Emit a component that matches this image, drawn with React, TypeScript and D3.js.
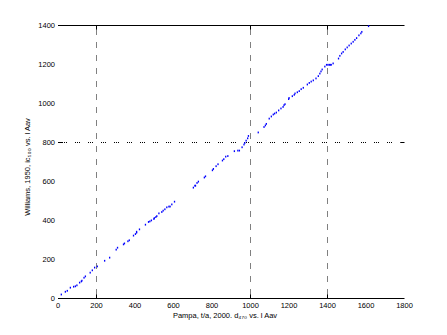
import React from "react";
import * as d3 from "d3";

const W = 447;
const H = 335;

const xTicks = [0, 200, 400, 600, 800, 1000, 1200, 1400, 1600, 1800];
const yTicks = [0, 200, 400, 600, 800, 1000, 1200, 1400];
const xGrid = [200, 1000, 1400];
const yGrid = [800];

const xLabel = "Pampa, t/a, 2000. d\u2084\u2087\u2080 vs. l Aav";
const yLabel = "Williams, 1950, ic\u2085\u2080\u2080 vs. l Aav";

const xVals = [
  17, 38, 48, 64, 81, 90, 98, 112, 121, 124, 135, 142, 167, 178, 190, 204, 242, 268,
  302, 309, 340, 345, 363, 370, 392, 402, 408, 408, 423, 454, 470, 477, 485, 498, 500,
  508, 513, 524, 539, 546, 555, 565, 576, 582, 591, 605, 703, 711, 714, 722, 729, 760,
  766, 802, 807, 821, 831, 854, 861, 871, 882, 916, 934, 942, 956, 966, 970, 977, 985,
  989, 1040, 1070, 1077, 1082, 1097, 1108, 1118, 1125, 1134, 1146, 1158, 1169, 1174,
  1179, 1198, 1200, 1217, 1227, 1231, 1243, 1253, 1263, 1274, 1295, 1305, 1315, 1326,
  1340, 1352, 1360, 1366, 1372, 1386, 1395, 1402, 1409, 1414, 1419, 1429, 1457, 1464,
  1473, 1481, 1492, 1502, 1512, 1523, 1533, 1542, 1551, 1563, 1573, 1578, 1613,
];
const yVals = [
  20, 34, 39, 55, 60, 62, 67, 81, 87, 91, 106, 113, 132, 144, 158, 164, 193, 209,
  250, 260, 277, 282, 293, 298, 322, 330, 337, 342, 354, 378, 392, 395, 400, 407, 412,
  417, 422, 436, 443, 450, 457, 467, 471, 471, 482, 496, 568, 578, 578, 592, 599, 620,
  626, 657, 664, 678, 688, 707, 714, 727, 730, 755, 758, 758, 775, 789, 797, 809, 821,
  833, 851, 879, 887, 895, 922, 933, 943, 948, 953, 964, 974, 982, 991, 996, 1022,
  1028, 1037, 1044, 1051, 1057, 1063, 1073, 1080, 1097, 1105, 1112, 1118, 1128, 1140,
  1153, 1164, 1174, 1189, 1198, 1198, 1198, 1198, 1198, 1205, 1230, 1244, 1256, 1264,
  1277, 1287, 1297, 1307, 1316, 1326, 1335, 1349, 1359, 1367, 1396,
];

const FONT = "'Liberation Sans', Arial, Helvetica, sans-serif";

export default function App() {
  const x = d3.scaleLinear().domain([0, 1800]).range([58, 404.5]);
  const y = d3.scaleLinear().domain([0, 1400]).range([298.5, 25.5]);
  const [x0, x1] = x.range();
  const [y0, y1] = y.range();
  const tl = 4;
  const dash = "1 1 1 1 1 8";

  const points = xVals.map((v, i) => [v, yVals[i]] as [number, number]);

  return (
    <svg width={W} height={H} style={{ position: "absolute", left: 0, top: 0, background: "#fff" }}>
      <rect x={0} y={0} width={W} height={H} fill="#fff" />
      {/* vertical grid lines */}
      {xGrid.map((g) => (
        <g key={"vx" + g}>
          <line x1={x(g)} x2={x(g)} y1={y0 - tl} y2={y1 + tl} stroke="#000" strokeWidth={1} strokeDasharray={dash} />
          <line x1={x(g)} x2={x(g)} y1={y0} y2={y0 - tl} stroke="#000" strokeWidth={1} />
          <line x1={x(g)} x2={x(g)} y1={y1} y2={y1 + tl} stroke="#000" strokeWidth={1} />
        </g>
      ))}
      {/* horizontal grid lines */}
      {yGrid.map((g) => (
        <g key={"hy" + g}>
          <line x1={x0 + tl} x2={x1 - tl} y1={y(g)} y2={y(g)} stroke="#000" strokeWidth={1} strokeDasharray={dash} />
          <line x1={x0} x2={x0 + tl} y1={y(g)} y2={y(g)} stroke="#000" strokeWidth={1} />
          <line x1={x1 - tl} x2={x1} y1={y(g)} y2={y(g)} stroke="#000" strokeWidth={1} />
        </g>
      ))}
      {/* bottom axis and top line */}
      <line x1={x0} x2={x1} y1={y0} y2={y0} stroke="#000" strokeWidth={1} />
      <line x1={x0} x2={x1} y1={y1} y2={y1} stroke="#000" strokeWidth={1} />
      {/* tick labels */}
      {xTicks.map((t) => (
        <text key={"xt" + t} x={x(t)} y={308} fontSize={7.5} fontFamily={FONT} textAnchor="middle" fill="#000">
          {t}
        </text>
      ))}
      {yTicks.map((t) => (
        <text key={"yt" + t} x={55} y={y(t) + 2.7} fontSize={7.5} fontFamily={FONT} textAnchor="end" fill="#000">
          {t}
        </text>
      ))}
      {/* axis labels */}
      <text x={225} y={318} fontSize={7.5} fontFamily={FONT} textAnchor="middle" fill="#000">
        {xLabel}
      </text>
      <text
        transform={`translate(30,167) rotate(-90)`}
        fontSize={7.5}
        fontFamily={FONT}
        textAnchor="middle"
        fill="#000"
      >
        {yLabel}
      </text>
      {/* data */}
      {points.map(([a, b], i) => (
        <rect key={"p" + i} x={x(a) - 0.6} y={y(b) - 1} width={1.3} height={1.8} fill="#0000ff" />
      ))}
    </svg>
  );
}
